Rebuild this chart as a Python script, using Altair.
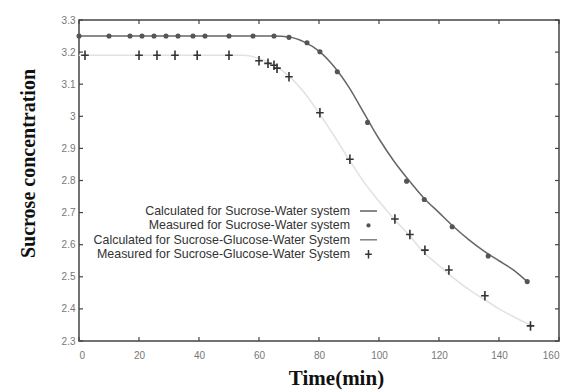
import altair as alt
import pandas as pd

# ---- data ----
sw_meas_t = [0, 10, 17, 21, 25, 29, 33, 38, 42, 50, 58, 65, 70, 76, 80.3, 86.1, 96.2, 109.2, 115.1, 124.4, 136.4, 149.4]
sw_meas_c = [3.25, 3.25, 3.25, 3.25, 3.25, 3.25, 3.25, 3.25, 3.25, 3.25, 3.25, 3.25, 3.246, 3.229, 3.201, 3.139, 2.981, 2.798, 2.741, 2.656, 2.565, 2.485]

sgw_meas_t = [2, 20, 26, 32, 39.4, 50, 60, 63, 65, 66, 70, 80.3, 90.3, 105.3, 110.3, 115.3, 123.3, 135.3, 150.5]
sgw_meas_c = [3.19, 3.19, 3.19, 3.19, 3.19, 3.19, 3.173, 3.165, 3.159, 3.15, 3.123, 3.011, 2.866, 2.68, 2.632, 2.583, 2.521, 2.441, 2.347]

sw_calc_t = [0, 30, 60, 65, 70, 75, 80, 85, 90, 95, 100, 105, 110, 115, 120, 125, 130, 135, 140, 145, 149.4]
sw_calc_c = [3.25, 3.25, 3.25, 3.25, 3.247, 3.232, 3.203, 3.155, 3.09, 3.01, 2.93, 2.86, 2.80, 2.745, 2.70, 2.655, 2.615, 2.58, 2.55, 2.52, 2.485]

sgw_calc_t = [0, 30, 55, 60, 65, 70, 75, 80, 85, 90, 95, 100, 105, 110, 115, 120, 125, 130, 135, 140, 145, 150.5]
sgw_calc_c = [3.19, 3.19, 3.19, 3.18, 3.16, 3.125, 3.075, 3.01, 2.94, 2.865, 2.795, 2.735, 2.68, 2.63, 2.575, 2.535, 2.495, 2.46, 2.43, 2.40, 2.375, 2.35]

x_ticks = [0, 20, 40, 60, 80, 100, 120, 140, 160]
y_ticks = [2.3, 2.4, 2.5, 2.6, 2.7, 2.8, 2.9, 3.0, 3.1, 3.2, 3.3]

legend_labels = [
    "Calculated for Sucrose-Water system",
    "Measured for Sucrose-Water system",
    "Calculated for Sucrose-Glucose-Water System",
    "Measured for Sucrose-Glucose-Water System",
]

W, H = 480, 321
xs = alt.Scale(domain=[0, 160], nice=False, zero=False)
ys = alt.Scale(domain=[2.3, 3.3], nice=False, zero=False)

x_axis = alt.Axis(values=x_ticks, ticks=False, domain=False, grid=False, labelOverlap=False,
                  labelFontSize=10, labelColor="#777", labelFont="Liberation Sans",
                  labelPadding=9,
                  title="Time(min)", titleFont="Liberation Serif", titleFontWeight="bold",
                  titleFontSize=21, titleColor="#111", titleX=257, titleY=37,
                  titleBaseline="middle", titleAlign="center")
y_axis = alt.Axis(values=y_ticks, ticks=False, domain=False, grid=False, format="~g",
                  labelOverlap=False, labelFlush=False,
                  labelFontSize=10, labelColor="#777", labelFont="Liberation Sans",
                  labelPadding=4,
                  title="Sucrose concentration", titleFont="Liberation Serif", titleFontWeight="bold",
                  titleFontSize=20, titleColor="#111", titleX=-51, titleY=143,
                  titleAngle=270, titleBaseline="middle", titleAlign="center")

sw_calc = pd.DataFrame({"t": sw_calc_t, "c": sw_calc_c})
sgw_calc = pd.DataFrame({"t": sgw_calc_t, "c": sgw_calc_c})
sw_meas = pd.DataFrame({"t": sw_meas_t, "c": sw_meas_c})
sgw_meas = pd.DataFrame({"t": sgw_meas_t, "c": sgw_meas_c})


def X(field="t"):
    return alt.X(f"{field}:Q", scale=xs, axis=x_axis)


def Y(field="c"):
    return alt.Y(f"{field}:Q", scale=ys, axis=y_axis)


line_sgw = alt.Chart(sgw_calc).mark_line(color="#e2e2e2", strokeWidth=1.6, interpolate="monotone").encode(
    x=X(), y=Y())
line_sw = alt.Chart(sw_calc).mark_line(color="#666", strokeWidth=1.5, interpolate="monotone").encode(
    x=X(), y=Y())

plus_path = "M-0.8,0H0.8M0,-1V1"
pts_sw = alt.Chart(sw_meas).mark_point(shape="circle", filled=True, color="#555", size=26, opacity=1).encode(
    x=X(), y=Y())
pts_sgw = alt.Chart(sgw_meas).mark_point(shape=plus_path, filled=False, color="#333", size=90,
                                         strokeWidth=1.6, opacity=1).encode(
    x=X(), y=Y())

# inward ticks on all four sides
xt = pd.DataFrame({"t": x_ticks})
yt = pd.DataFrame({"c": y_ticks})
tick_col = "#444"
tb = alt.Chart(xt).mark_rule(color=tick_col, strokeWidth=1.2).encode(
    x=X(), y=alt.value(H), y2=alt.value(H - 4))
tt = alt.Chart(xt).mark_rule(color=tick_col, strokeWidth=1.2).encode(
    x=X(), y=alt.value(0), y2=alt.value(4))
tl = alt.Chart(yt).mark_rule(color=tick_col, strokeWidth=1.2).encode(
    y=Y(), x=alt.value(0), x2=alt.value(4))
tr = alt.Chart(yt).mark_rule(color=tick_col, strokeWidth=1.2).encode(
    y=Y(), x=alt.value(W), x2=alt.value(W - 4))

# legend (text right-aligned, sample on the right)
leg_layers = []
row_y0, row_dy = 191, 14.4
text_x, samp_x0, samp_x1 = 271, 281, 298
for i, lab in enumerate(legend_labels):
    ry = row_y0 + i * row_dy
    d = pd.DataFrame({"label": [lab]})
    leg_layers.append(alt.Chart(d).mark_text(align="right", baseline="middle", fontSize=12.4,
                                            font="Liberation Sans", color="#333").encode(
        text="label:N", x=alt.value(text_x), y=alt.value(ry)))
    if i == 0 or i == 2:
        leg_layers.append(alt.Chart(d).mark_rule(color="#555" if i == 0 else "#777", strokeWidth=1.4).encode(
            x=alt.value(samp_x0), x2=alt.value(samp_x1), y=alt.value(ry)))
    elif i == 1:
        leg_layers.append(alt.Chart(d).mark_point(shape="circle", filled=True, color="#555", size=18, opacity=1).encode(
            x=alt.value((samp_x0 + samp_x1) / 2), y=alt.value(ry)))
    else:
        leg_layers.append(alt.Chart(d).mark_point(shape=plus_path, filled=False, color="#333", size=70,
                                                  strokeWidth=1.5, opacity=1).encode(
            x=alt.value((samp_x0 + samp_x1) / 2), y=alt.value(ry)))

chart = alt.layer(line_sgw, line_sw, pts_sw, pts_sgw, tb, tt, tl, tr, *leg_layers).properties(
    width=W, height=H,
    autosize=alt.AutoSizeParams(type="none"),
    padding={"left": 71, "top": 12, "right": 4, "bottom": 50},
    background="white",
).configure_view(stroke="#444", strokeWidth=1.5).configure_axis(labelOverlap=False)

chart.save("out.html", embed_options={"renderer": "svg", "actions": False})
